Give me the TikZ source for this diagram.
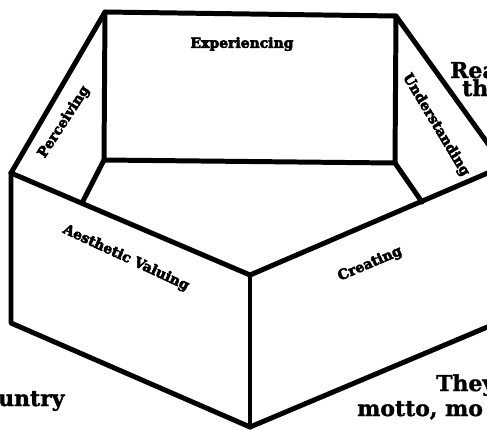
\documentclass[tikz,border=0pt]{standalone}
\usepackage{fontspec}
\setmainfont{DejaVu Serif}
\newfontfamily\heavyfont[FakeBold=4]{DejaVu Serif Bold}
\newfontfamily\sidefont[FakeBold=1.5]{DejaVu Serif Bold}
\begin{document}
\begin{tikzpicture}[x=1bp,y=-1bp,
  edge/.style={line width=5pt,line join=round,line cap=round},
  face/.style={font=\heavyfont\fontsize{14}{15}\selectfont,inner sep=0pt},
  side/.style={font=\sidefont\fontsize{22}{24}\selectfont,inner sep=0pt,anchor=base west}]
\useasboundingbox (0,0) rectangle (487,429);
\clip (0,0) rectangle (487,429);
% vertices
\coordinate (A) at (105,12);
\coordinate (B) at (396,16);
\coordinate (C) at (104,160);
\coordinate (D) at (395,163);
\coordinate (E) at (11,173);
\coordinate (F) at (82,203);
\coordinate (G) at (250,275);
\coordinate (H) at (422,202);
\coordinate (I) at (504,166);
\coordinate (J) at (504,320);
\coordinate (K) at (11,323);
\coordinate (L) at (250,427);
% edges
\draw[edge] (A) -- (B) -- (D) -- (C) -- cycle;
\draw[edge] (A) -- (E);
\draw[edge] (C) -- (F);
\draw[edge] (D) -- (H);
\draw[edge] (B) -- (I);
\draw[edge] (E) -- (G) -- (I);
\draw[edge] (E) -- (K) -- (L) -- (J) -- (I);
\draw[edge] (G) -- (L);
% face labels
\node[face] (exp) at (242,44) {Experiencing};
\node[face,rotate=57] (per) at (64,122) {Perceiving};
\node[face,rotate=-59] (und) at (436,125) {Understanding};
\node[face,rotate=-25] (aes) at (126,258) {Aesthetic Valuing};
\node[face,rotate=23] (cre) at (370,264) {Creating};
% cropped surrounding text
\node[side] (rea) at (450,78) {Rea};
\node[side] (th) at (462,96) {th};
\node[side] (unt) at (-2,406) {untry};
\node[side] (they) at (436,391) {They};
\node[side] (mot) at (357,416) {motto, mo};
\end{tikzpicture}
\end{document}
